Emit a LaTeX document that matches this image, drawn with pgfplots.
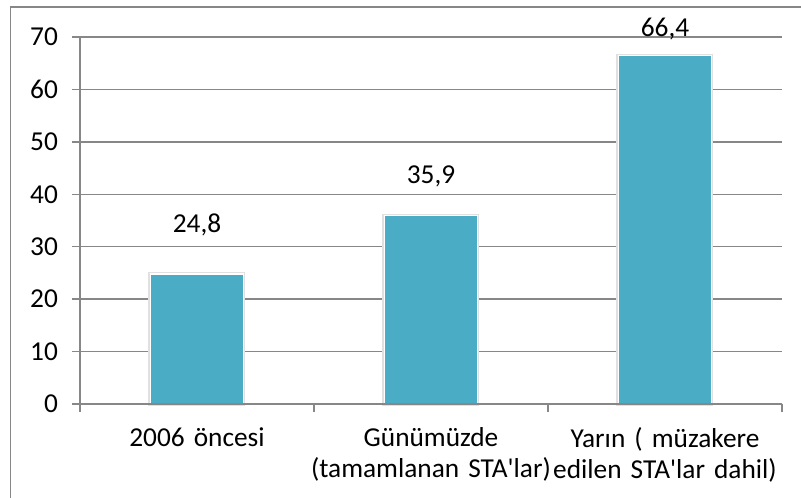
\documentclass[border=0pt]{standalone}
\usepackage{pgfplots}
\pgfplotsset{compat=1.18}
\usepackage{fontspec}
\setmainfont{Carlito}[Ligatures=TeXOff]
\definecolor{barc}{HTML}{4BACC6}
\definecolor{gridc}{HTML}{878787}
\newcommand{\lbl}{\fontsize{20.5}{23}\selectfont}
\begin{document}
\begin{tikzpicture}
\useasboundingbox (-60pt,-70.5pt) rectangle (540.75pt,303pt);
\draw[gridc, line width=1pt] (-52pt,-100pt) -- (-52pt,297.75pt) -- (570pt,297.75pt);
\begin{axis}[
  at={(0pt,0pt)}, anchor=south west,
  scale only axis, width=526.5pt, height=275.25pt,
  xmin=-0.5, xmax=2.5, ymin=0, ymax=70,
  clip=false,
  axis x line*=bottom, axis y line*=left,
  axis line style={gridc, line width=1pt, -},
  tick align=outside, major tick length=6pt,
  tick style={gridc, line width=1pt},
  ytick={0,10,...,70},
  ymajorgrids, grid style={gridc, line width=1pt},
  xtick={-0.5,0.5,1.5,2.5}, xticklabels={},
  extra x ticks={0,1,2},
  extra x tick labels={2006 öncesi, {Günümüzde\\(tamamlanan STA'lar)}, {Yarın ( müzakere\\edilen STA'lar dahil)}},
  extra x tick style={major tick length=0pt,
    xticklabel style={font=\lbl, align=center, text width=200pt, yshift=-14pt}},
  /pgf/number format/assume math mode=true,
  yticklabel style={font=\lbl, xshift=-7pt},
]
\addplot[ybar, bar width=69.75pt, fill=barc, draw=white, line width=0.8pt,
  preaction={draw=black!12, line width=3pt}] coordinates {(0,24.8) (1,35.9) (2,66.4)};
\addplot[draw=none, mark=none, nodes near coords, point meta=explicit symbolic,
  nodes near coords style={anchor=center, font=\lbl, text=black}]
  table[meta=lab] {
x y lab
0 34.1 24,8
1 43.5 35,9
2 71.5 66,4
};
\draw[gridc, line width=1pt] (axis cs:-0.5,0) -- (axis cs:2.5,0);
\end{axis}
\end{tikzpicture}
\end{document}
